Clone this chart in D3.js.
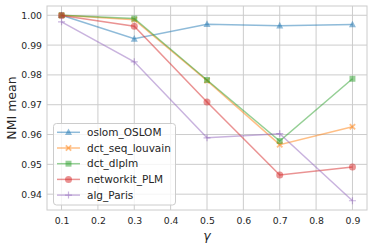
<!DOCTYPE html>
<html><head><meta charset="utf-8">
<script src="https://cdn.jsdelivr.net/npm/d3@7"></script>
<style>body{margin:0;background:#fff;}svg{display:block;font-family:"DejaVu Sans",sans-serif;}</style>
</head><body>
<svg id="c" width="374" height="247"></svg>
<script>
const gammas = [0.1, 0.3, 0.5, 0.7, 0.9];
const seriesNames = ["oslom_OSLOM", "dct_seq_louvain", "dct_dlplm", "networkit_PLM", "alg_Paris"];
const oslom = [1.0000, 0.9921, 0.9970, 0.9965, 0.9969];
const seqLouvain = [1.0000, 0.9985, 0.9781, 0.9566, 0.9626];
const dlplm = [1.0000, 0.9989, 0.9783, 0.9578, 0.9787];
const plm = [0.9999, 0.9963, 0.9709, 0.9464, 0.9491];
const paris = [0.9978, 0.9844, 0.9589, 0.9603, 0.9378];
const xTicks = [0.1, 0.2, 0.3, 0.4, 0.5, 0.6, 0.7, 0.8, 0.9];
const yTicks = [0.94, 0.95, 0.96, 0.97, 0.98, 0.99, 1.00];
const colors = ["#1f77b4", "#ff7f0e", "#2ca02c", "#d62728", "#9467bd"];
const markers = ["triangle", "x", "square", "circle", "plus"];
const allSeries = [oslom, seqLouvain, dlplm, plm, paris];

const svg = d3.select("#c");
const L = 47, R = 367, T = 6, B = 210;
const x = d3.scaleLinear().domain([0.06, 0.94]).range([L, R]);
const y = d3.scaleLinear().domain([0.93469, 1.00311]).range([B, T]);

// grid
const g = svg.append("g");
g.selectAll(".gx").data(xTicks).enter().append("line")
  .attr("x1", d => x(d)).attr("x2", d => x(d)).attr("y1", T).attr("y2", B)
  .attr("stroke", "#cccccc").attr("stroke-width", 1);
g.selectAll(".gy").data(yTicks).enter().append("line")
  .attr("y1", d => y(d)).attr("y2", d => y(d)).attr("x1", L).attr("x2", R)
  .attr("stroke", "#cccccc").attr("stroke-width", 1);

// axes using d3 axis
const xAxis = d3.axisBottom(x).tickValues(xTicks).tickFormat(d3.format(".1f")).tickSize(0).tickPadding(7);
const yAxis = d3.axisLeft(y).tickValues(yTicks).tickFormat(d3.format(".2f")).tickSize(0).tickPadding(5);
const ax = svg.append("g").attr("transform", `translate(0,${B})`).call(xAxis);
const ay = svg.append("g").attr("transform", `translate(${L},0)`).call(yAxis);
[ax, ay].forEach(a => {
  a.select(".domain").remove();
  a.selectAll("text").attr("fill", "#262626").style("font-size", "9.3px").style("font-family", "DejaVu Sans");
});

// frame
svg.append("rect").attr("x", L).attr("y", T).attr("width", R - L).attr("height", B - T)
  .attr("fill", "none").attr("stroke", "#cccccc").attr("stroke-width", 1);

function markerPath(type, s) {
  const h = s / 2;
  if (type === "triangle") return `M0,${-h*1.1}L${h},${h*0.8}L${-h},${h*0.8}Z`;
  if (type === "square") return `M${-h*0.85},${-h*0.85}H${h*0.85}V${h*0.85}H${-h*0.85}Z`;
  if (type === "circle") return d3.symbol(d3.symbolCircle, Math.PI * h * h)();
  if (type === "x") {
    const a = h * 0.95, w = h * 0.38;
    return `M${-a},${-a+w}L${-a+w},${-a}L0,${-w}L${a-w},${-a}L${a},${-a+w}L${w},0L${a},${a-w}L${a-w},${a}L0,${w}L${-a+w},${a}L${-a},${a-w}L${-w},0Z`;
  }
  return null;
}

const line = d3.line().x((d, i) => x(gammas[i])).y(d => y(d));
allSeries.forEach((vals, si) => {
  const c = colors[si];
  const sg = svg.append("g").attr("opacity", 1);
  sg.append("path").datum(vals).attr("d", line).attr("fill", "none")
    .attr("stroke", c).attr("stroke-width", 1.5).attr("stroke-opacity", 0.5);
  const m = markers[si];
  sg.selectAll(".m").data(vals).enter().each(function (d, i) {
    const px = x(gammas[i]), py = y(d);
    if (m === "plus") {
      d3.select(this).append("path")
        .attr("d", `M${px-3.5},${py}H${px+3.5}M${px},${py-3.5}V${py+3.5}`)
        .attr("stroke", c).attr("stroke-width", 1.2).attr("stroke-opacity", 0.5).attr("fill", "none");
    } else {
      d3.select(this).append("path").attr("d", markerPath(m, 7))
        .attr("transform", `translate(${px},${py})`)
        .attr("fill", c).attr("fill-opacity", 0.5);
    }
  });
});

// legend
const lg = svg.append("g");
lg.append("rect").attr("x", 53.5).attr("y", 123.5).attr("width", 122).attr("height", 81.5)
  .attr("rx", 3).attr("fill", "#ffffff").attr("fill-opacity", 0.8).attr("stroke", "#cccccc").attr("stroke-width", 1);
seriesNames.forEach((name, i) => {
  const cy = 132.3 + i * 15.7;
  const c = colors[i];
  lg.append("line").attr("x1", 57).attr("x2", 80).attr("y1", cy).attr("y2", cy)
    .attr("stroke", c).attr("stroke-width", 1.5).attr("stroke-opacity", 0.5);
  const m = markers[i];
  if (m === "plus") {
    lg.append("path").attr("d", `M${68.5-3.5},${cy}H${68.5+3.5}M68.5,${cy-3.5}V${cy+3.5}`)
      .attr("stroke", c).attr("stroke-width", 1.2).attr("stroke-opacity", 0.5);
  } else {
    lg.append("path").attr("d", markerPath(m, 7)).attr("transform", `translate(68.5,${cy})`)
      .attr("fill", c).attr("fill-opacity", 0.5);
  }
  lg.append("text").attr("x", 87).attr("y", cy).attr("dy", "0.36em")
    .attr("fill", "#262626").style("font-size", "10.5px").text(name);
});

// axis labels
svg.append("text").attr("x", (L + R) / 2).attr("y", 239.5).attr("text-anchor", "middle")
  .attr("fill", "#262626").style("font-size", "12.5px").style("font-style", "italic").text("γ");
svg.append("text").attr("transform", `translate(16,${(T + B) / 2}) rotate(-90)`).attr("text-anchor", "middle")
  .attr("fill", "#262626").style("font-size", "12.5px").text("NMI mean");
</script>
</body></html>
